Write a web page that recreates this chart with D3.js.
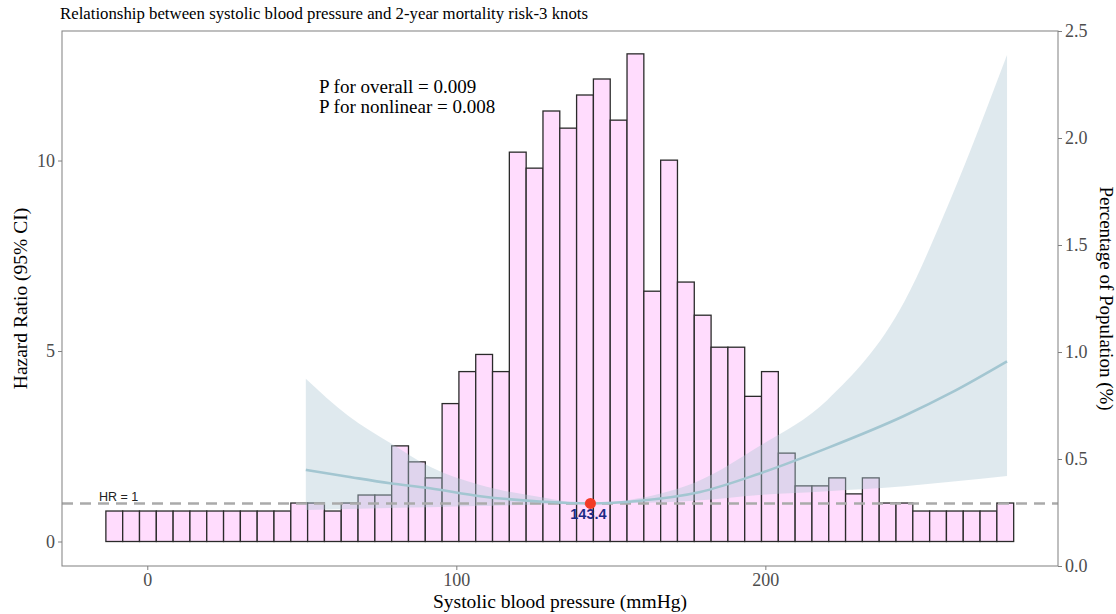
<!DOCTYPE html>
<html>
<head>
<meta charset="utf-8">
<script src="https://cdn.jsdelivr.net/npm/d3@7"></script>
<style>
  body { margin: 0; background: #fff; }
  svg { display: block; }
  .tick text { font-family: "Liberation Serif", "Times New Roman", serif; font-size: 18px; fill: #4d4d4d; }
  .tick line { stroke: #7f7f7f; }
</style>
</head>
<body>
<svg id="chart" width="1116" height="614"></svg>
<script>
// histogram of SBP (bar tops read on the hazard ratio axis)
var binStart = -13.4
var binWidth = 5.44
var barTop = [0.80, 0.80, 0.80, 0.80, 0.80, 0.80, 0.80, 0.80, 0.80, 0.80, 0.80,
    1.01, 1.01, 0.80, 1.01, 1.22, 1.22, 2.51, 2.09, 1.67, 3.62, 4.46, 4.91, 4.46,
    10.22, 9.80, 11.30, 10.85, 11.72, 12.14, 11.06, 12.80, 6.57, 10.01, 6.81, 5.94,
    5.10, 5.10, 3.81, 4.46, 2.32, 1.46, 1.46, 1.67, 1.25, 1.67, 1.01, 1.01,
    0.80, 0.80, 0.80, 0.80, 0.80, 1.01]

// restricted cubic spline, 3 knots
var splineX = [51.3, 65, 78.5, 91.5, 107.7, 127, 143.4, 159.4, 178.9, 198, 220, 245, 260, 278.2]
var splineHR = [1.88, 1.70, 1.53, 1.40, 1.19, 1.05, 1.00, 1.07, 1.30, 1.78, 2.45, 3.30, 3.90, 4.73]
var splineLow = [0.83, 0.85, 0.88, 0.90, 0.93, 0.97, 1.00, 1.01, 1.08, 1.22, 1.32, 1.45, 1.57, 1.72]
var splineUp = [4.27, 3.30, 2.59, 1.96, 1.48, 1.17, 1.00, 1.14, 1.61, 2.50, 3.71, 6.30, 9.00, 12.77]

var refSBP = 143.4
var refLabel = "143.4"
var pText = ["P for overall = 0.009", "P for nonlinear = 0.008"]

var sbpTicks = [0, 100, 200]
var hrTicks = [0, 5, 10]
var pctTicks = [0, 0.5, 1.0, 1.5, 2.0, 2.5]

var svg = d3.select("#chart")
var panel = { left: 62, right: 1058, top: 31, bottom: 566 }

var x = d3.scaleLinear().domain([-27.6, 294.7]).range([panel.left, panel.right])
var yL = d3.scaleLinear().domain([-0.643, 13.4]).range([panel.bottom, panel.top])
var yR = d3.scaleLinear().domain([0, 2.5]).range([panel.bottom, panel.top])

var serif = '"Liberation Serif", "Times New Roman", serif'
var sans = '"Liberation Sans", Arial, sans-serif'

// title
svg.append("text")
    .attr("x", 60).attr("y", 19)
    .style("font-family", serif).style("font-size", "16.8px")
    .text("Relationship between systolic blood pressure and 2-year mortality risk-3 knots")

// bars
svg.append("g").selectAll("rect")
    .data(barTop)
    .enter()
    .append("rect")
    .attr("x", function (d, i) { return x(binStart + i * binWidth) })
    .attr("width", x(binWidth) - x(0))
    .attr("y", function (d) { return yL(d) })
    .attr("height", function (d) { return yL(0) - yL(d) })
    .attr("fill", "#ffdcfd")
    .attr("stroke", "#2a2a2a")
    .attr("stroke-width", 1.3)

var pts = splineX.map(function (v, i) {
    return { x: v, hr: splineHR[i], lo: splineLow[i], up: splineUp[i] }
})

// confidence band
var area = d3.area()
    .x(function (d) { return x(d.x) })
    .y0(function (d) { return yL(d.lo) })
    .y1(function (d) { return yL(d.up) })
    .curve(d3.curveMonotoneX)
svg.append("path")
    .datum(pts)
    .attr("d", area)
    .attr("fill", "#b0c8d4")
    .attr("fill-opacity", 0.4)

// HR = 1 reference line
svg.append("line")
    .attr("x1", panel.left).attr("x2", panel.right)
    .attr("y1", yL(1)).attr("y2", yL(1))
    .attr("stroke", "#aaaaaa")
    .attr("stroke-width", 2.5)
    .attr("stroke-dasharray", "11,7")

// spline line
var line = d3.line()
    .x(function (d) { return x(d.x) })
    .y(function (d) { return yL(d.hr) })
    .curve(d3.curveMonotoneX)
svg.append("path")
    .datum(pts)
    .attr("d", line)
    .attr("fill", "none")
    .attr("stroke", "#a3c6d1")
    .attr("stroke-width", 2.6)

svg.append("text")
    .attr("x", 99).attr("y", 501)
    .style("font-family", sans).style("font-size", "12.5px").style("fill", "#222")
    .text("HR = 1")

// reference point
svg.append("circle")
    .attr("cx", x(refSBP)).attr("cy", yL(1))
    .attr("r", 5.5)
    .attr("fill", "#f23a26")
svg.append("text")
    .attr("x", x(refSBP) - 2).attr("y", 519)
    .attr("text-anchor", "middle")
    .style("font-family", sans).style("font-size", "14.5px").style("font-weight", "bold")
    .style("fill", "#1d2a86")
    .text(refLabel)

// p values
svg.append("g").selectAll("text")
    .data(pText)
    .enter()
    .append("text")
    .attr("x", 319)
    .attr("y", function (d, i) { return 92.5 + i * 20 })
    .style("font-family", serif).style("font-size", "19px")
    .text(function (d) { return d })

// panel border
svg.append("rect")
    .attr("x", panel.left).attr("y", panel.top)
    .attr("width", panel.right - panel.left)
    .attr("height", panel.bottom - panel.top)
    .attr("fill", "none")
    .attr("stroke", "#8a8a8a")
    .attr("stroke-width", 1.1)

// axes
var gL = svg.append("g")
    .attr("transform", "translate(" + panel.left + ",0)")
    .call(d3.axisLeft(yL).tickValues(hrTicks).tickSize(4).tickPadding(3))
var gR = svg.append("g")
    .attr("transform", "translate(" + panel.right + ",0)")
    .call(d3.axisRight(yR).tickValues(pctTicks).tickFormat(d3.format(".1f")).tickSize(4).tickPadding(3))
var gB = svg.append("g")
    .attr("transform", "translate(0," + panel.bottom + ")")
    .call(d3.axisBottom(x).tickValues(sbpTicks).tickSize(4).tickPadding(3))
gL.select(".domain").remove()
gR.select(".domain").remove()
gB.select(".domain").remove()

// axis titles
svg.append("text")
    .attr("x", (panel.left + panel.right) / 2).attr("y", 608)
    .attr("text-anchor", "middle")
    .style("font-family", serif).style("font-size", "19.5px")
    .text("Systolic blood pressure (mmHg)")
svg.append("text")
    .attr("transform", "translate(27," + (panel.top + panel.bottom) / 2 + ") rotate(-90)")
    .attr("text-anchor", "middle")
    .style("font-family", serif).style("font-size", "19.5px")
    .text("Hazard Ratio (95% CI)")
svg.append("text")
    .attr("transform", "translate(1100," + (panel.top + panel.bottom) / 2 + ") rotate(90)")
    .attr("text-anchor", "middle")
    .style("font-family", serif).style("font-size", "19px")
    .text("Percentage of Population (%)")
</script>
</body>
</html>
